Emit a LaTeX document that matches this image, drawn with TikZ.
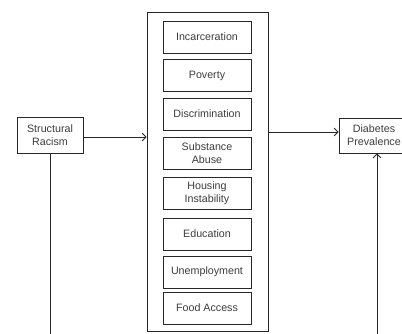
\documentclass[tikz,border=0pt]{standalone}
\usepackage{fontspec}
\setmainfont{Liberation Sans}
\usetikzlibrary{arrows.meta}
\definecolor{lineGray}{RGB}{40, 40, 40}
\definecolor{textGray}{RGB}{60, 60, 60}

\begin{document}
\begin{tikzpicture}[x=1pt, y=-1pt,
    box/.style={draw=lineGray, line width=0.8pt, align=center, inner sep=1pt, text=textGray, font=\fontsize{10.7}{12.7}\selectfont},
    factor/.style={box, minimum width=88pt, minimum height=32pt},
    link/.style={lineGray, line width=0.8pt, -{Straight Barb[length=4pt, width=8pt]}}]
    \useasboundingbox (0,0) rectangle (402,334);

    % Outer group
    \node[draw=lineGray, line width=0.8pt, minimum width=121pt, minimum height=319pt] (group) at (207.5,171.5) {};

    % Factors
    \node[factor] (incarceration) at (207,37) {Incarceration};
    \node[factor] (poverty) at (207,75.5) {Poverty};
    \node[factor] (discrimination) at (207,114) {Discrimination};
    \node[factor] (substance) at (207,153) {Substance\\Abuse};
    \node[factor] (housing) at (207,193.5) {Housing\\Instability};
    \node[factor] (education) at (207,234) {Education};
    \node[factor] (unemployment) at (207,272) {Unemployment};
    \node[factor] (food) at (207,308) {Food Access};

    % Cause and outcome
    \node[box, minimum width=66pt, minimum height=36pt] (racism) at (50,135.5) {Structural\\Racism};
    \node[box, minimum width=70pt, minimum height=35pt] (diabetes) at (374,135.5) {Diabetes\\Prevalence};

    % Free ends at the bottom edge
    \coordinate (racismEnd) at (50,334);
    \coordinate (diabetesStart) at (377,334);

    % Arrows
    \draw[link] (racism.east |- 0,137) -- (group.west |- 0,137);
    \draw[link] (group.east |- 0,132) -- (diabetes.west |- 0,132);
    \draw[lineGray, line width=0.8pt] (racism.south) -- (racismEnd);
    \draw[link] (diabetesStart) -- (diabetesStart |- diabetes.south);
\end{tikzpicture}
\end{document}
